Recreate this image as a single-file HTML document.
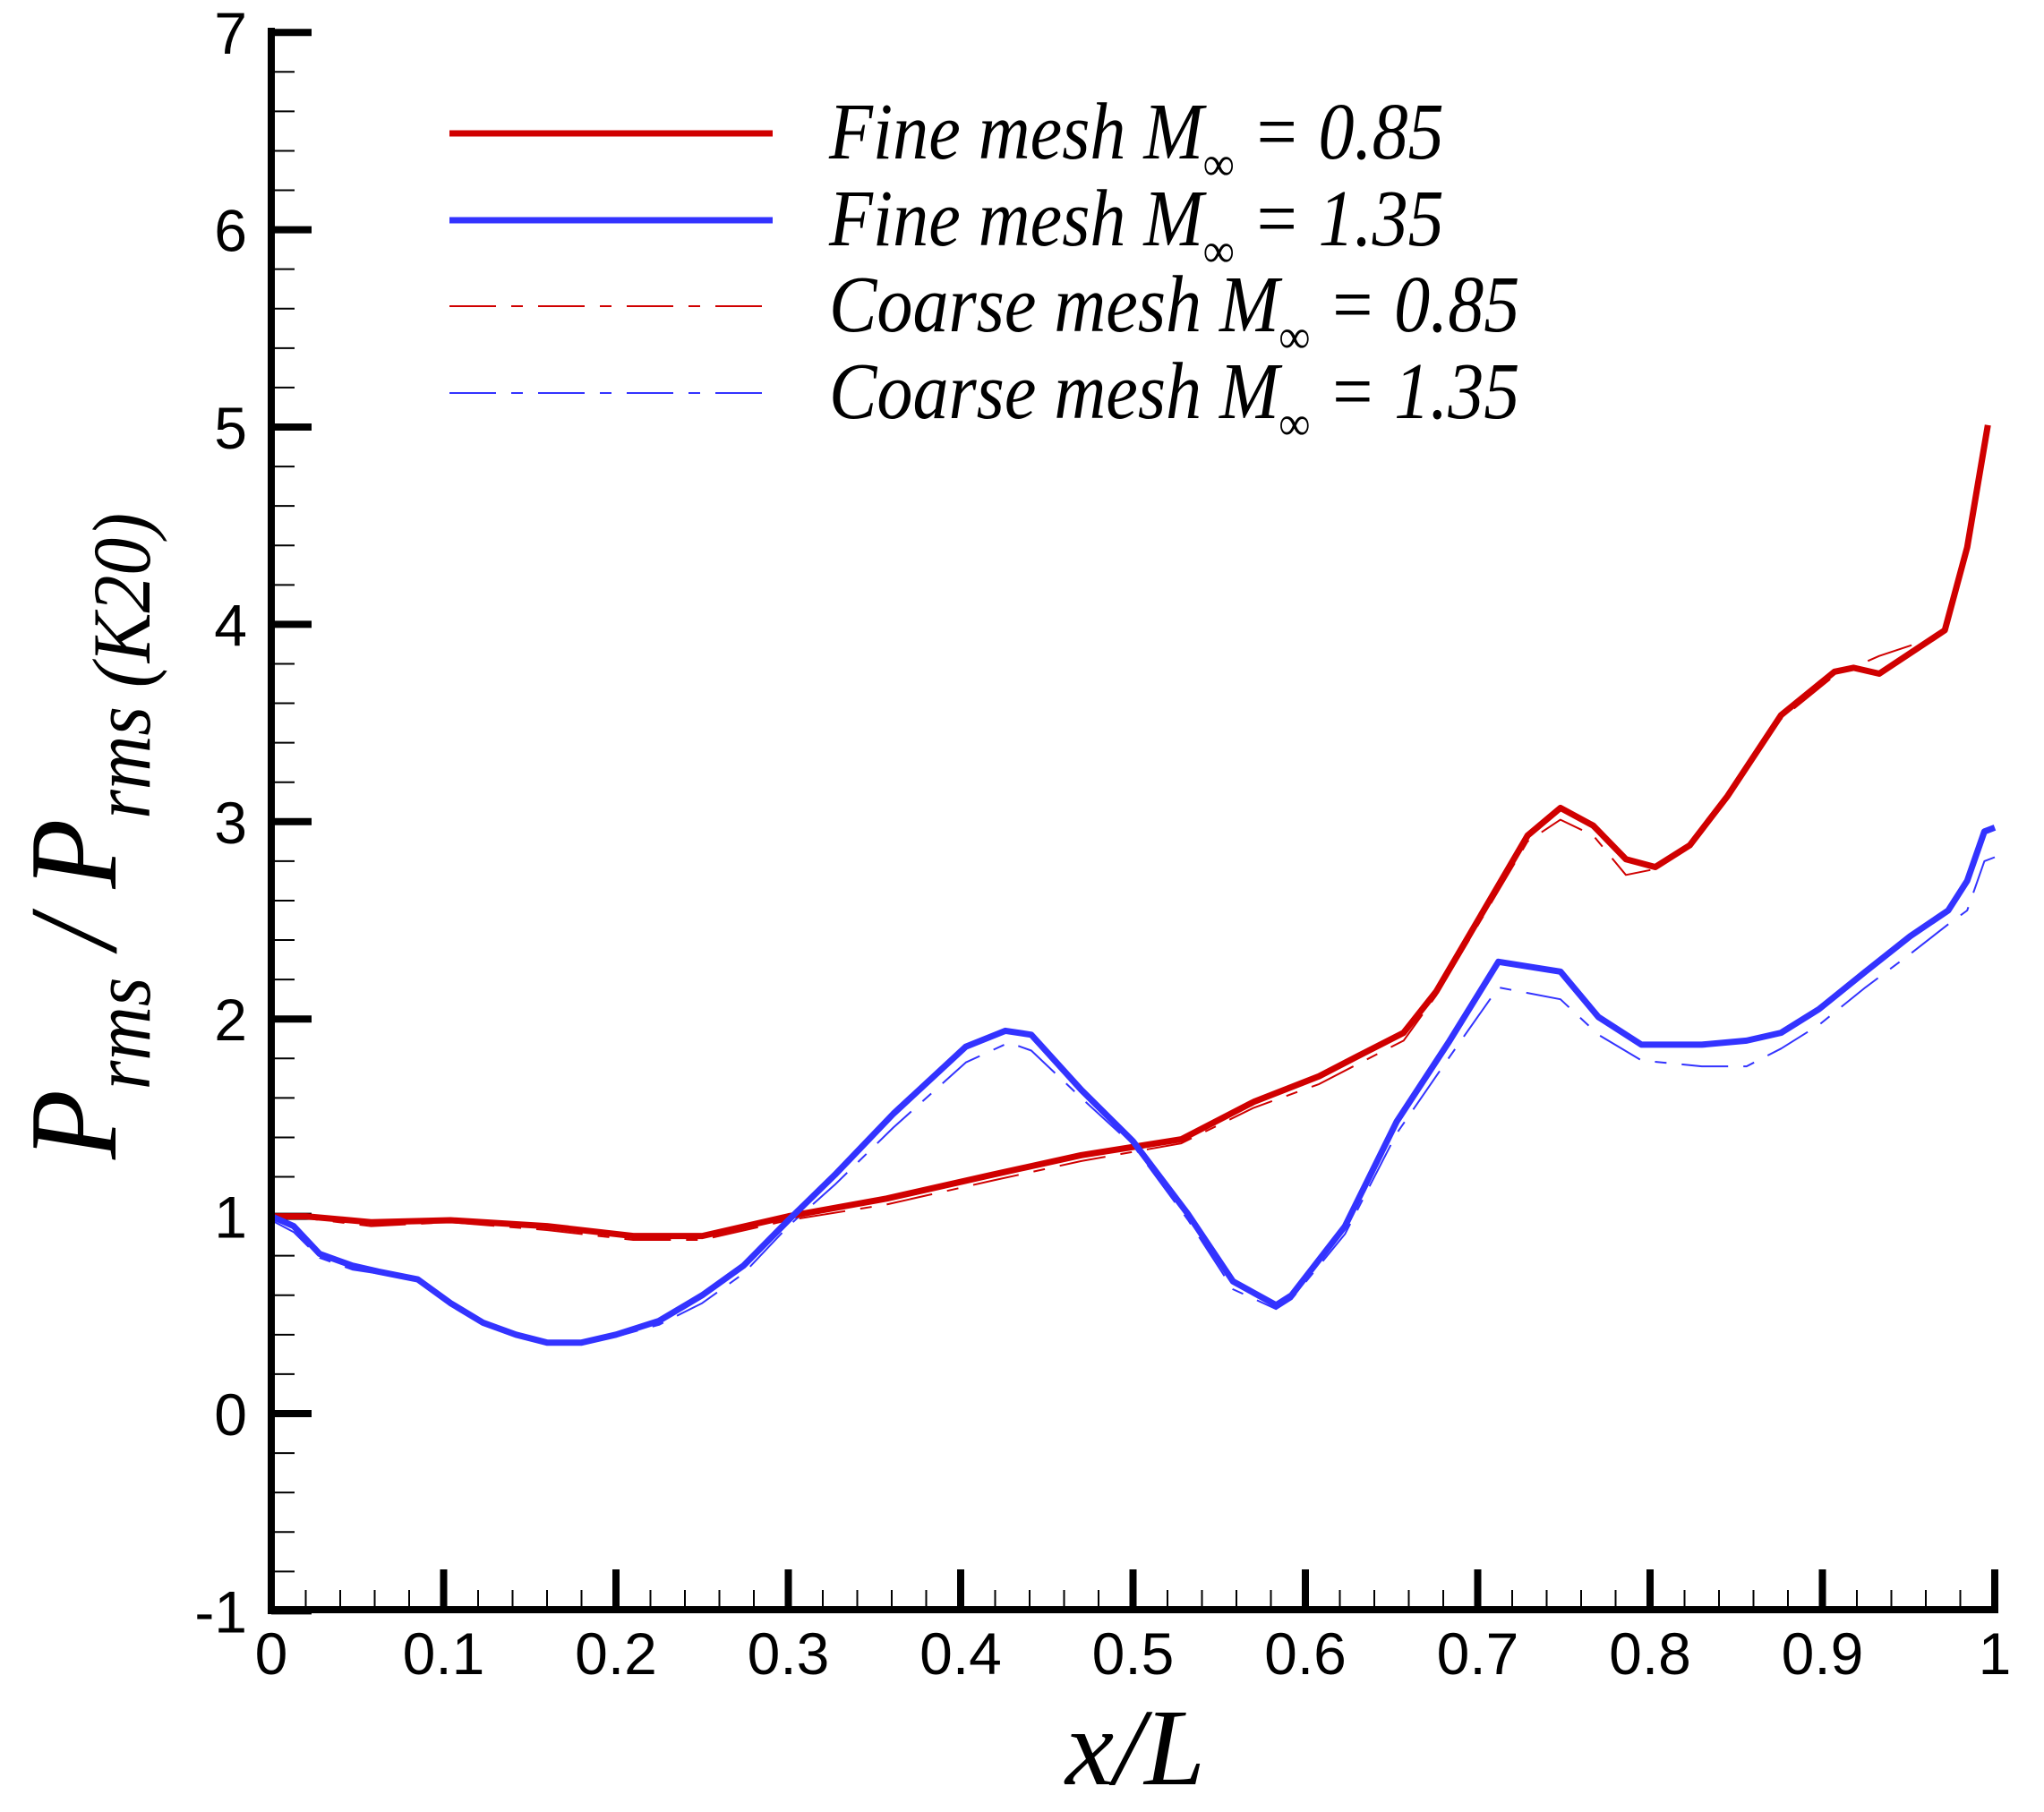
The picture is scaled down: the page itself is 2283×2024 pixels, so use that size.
<!DOCTYPE html>
<html><head><meta charset="utf-8"><style>
html,body{margin:0;padding:0;background:#fff;}
svg{display:block;}
</style></head><body>
<svg id="s" width="2283" height="2024" viewBox="0 0 2283 2024" xmlns="http://www.w3.org/2000/svg">
<rect width="2283" height="2024" fill="#fff"/>
<g id="axes"></g>
<g id="series" fill="none" stroke-linejoin="round"></g>
<line x1="303" y1="31" x2="303" y2="1803" stroke="#000" stroke-width="8"/>
<line x1="299" y1="1798" x2="2232" y2="1798" stroke="#000" stroke-width="8"/>
<line x1="502" y1="149" x2="863" y2="149" stroke="#d00000" stroke-width="7"/>
<line x1="502" y1="246" x2="863" y2="246" stroke="#3333ff" stroke-width="7"/>
<line x1="502" y1="342" x2="855" y2="342" stroke="#d00000" stroke-width="2" stroke-dasharray="52,17,13,17"/>
<line x1="502" y1="439" x2="855" y2="439" stroke="#3333ff" stroke-width="2" stroke-dasharray="52,17,13,17"/>
<g font-family="Liberation Serif, serif" font-style="italic" font-size="90" fill="#000">
<g transform="translate(926,177) scale(0.89,1)"><text x="0" y="0">Fine mesh M<tspan font-size="54" dy="24">∞</tspan><tspan dy="-24"> = 0.85</tspan></text></g>
<g transform="translate(926,274) scale(0.89,1)"><text x="0" y="0">Fine mesh M<tspan font-size="54" dy="24">∞</tspan><tspan dy="-24"> = 1.35</tspan></text></g>
<g transform="translate(926,370) scale(0.89,1)"><text x="0" y="0">Coarse mesh M<tspan font-size="54" dy="24">∞</tspan><tspan dy="-24"> = 0.85</tspan></text></g>
<g transform="translate(926,467) scale(0.89,1)"><text x="0" y="0">Coarse mesh M<tspan font-size="54" dy="24">∞</tspan><tspan dy="-24"> = 1.35</tspan></text></g>
</g>
<text x="1268" y="1993" text-anchor="middle" font-family="Liberation Serif, serif" font-style="italic" font-size="122" fill="#000">x/L</text>
<g transform="translate(129,1295) rotate(-90) scale(0.91,1)" font-family="Liberation Serif, serif" font-style="italic" fill="#000">
<text x="0" y="0" font-size="140">P<tspan font-size="92" dy="38">rms</tspan><tspan dy="-38" font-size="140"> / P</tspan><tspan font-size="92" dy="38">rms (K20)</tspan></text>
</g>
</svg>
<script>
var NS="http://www.w3.org/2000/svg";
function X(x){return 303+x*1925;}
function Y(v){return 1579-220.4*v;}
var ax=document.getElementById('axes');
function el(t,a,p){var e=document.createElementNS(NS,t);for(var k in a)e.setAttribute(k,a[k]);(p||ax).appendChild(e);return e;}
for(var i=-10;i<=70;i+=2){var v=i/10,y=Y(v),maj=(i%10===0);
 el('line',{x1:303,y1:y,x2:maj?348:329,y2:y,stroke:'#000','stroke-width':maj?8:2});
 if(maj){var t=el('text',{x:276,y:y+24,'text-anchor':'end','font-family':'Liberation Sans, sans-serif','font-size':66,fill:'#000'});t.textContent=String(v);}
}
for(var j=0;j<=50;j++){var x=X(j/50),maj=(j%5===0);
 if(j>0) el('line',{x1:x,y1:1798,x2:x,y2:maj?1753:1776,stroke:'#000','stroke-width':maj?8:2});
 if(maj){var t=el('text',{x:x,y:1870,'text-anchor':'middle','font-family':'Liberation Sans, sans-serif','font-size':66,fill:'#000'});t.textContent=(j===0?'0':(j===50?'1':(j/50).toFixed(1)));}
}
var red=[[0,1.0],[0.02,1.0],[0.058,0.97],[0.104,0.98],[0.16,0.95],[0.21,0.9],[0.25,0.9],[0.30,1.0],[0.357,1.09],[0.418,1.21],[0.47,1.31],[0.528,1.39],[0.57,1.58],[0.608,1.71],[0.63,1.81],[0.657,1.93],[0.676,2.14],[0.729,2.93],[0.748,3.07],[0.767,2.98],[0.786,2.81],[0.803,2.77],[0.823,2.88],[0.845,3.13],[0.876,3.54],[0.907,3.76],[0.918,3.78],[0.933,3.75],[0.971,3.97],[0.984,4.39],[0.996,5.01]];
var redC=[[0,1.0],[0.02,0.99],[0.058,0.95],[0.104,0.97],[0.16,0.93],[0.21,0.88],[0.25,0.88],[0.30,0.98],[0.357,1.06],[0.418,1.18],[0.47,1.28],[0.528,1.37],[0.57,1.55],[0.608,1.67],[0.63,1.77],[0.657,1.89],[0.676,2.12],[0.729,2.9],[0.748,3.01],[0.767,2.93],[0.786,2.73],[0.803,2.76],[0.823,2.88],[0.845,3.13],[0.876,3.52],[0.907,3.74],[0.933,3.84],[0.971,3.95],[0.984,4.37],[0.996,5.0]];
var blue=[[0,1.0],[0.013,0.95],[0.028,0.81],[0.047,0.75],[0.062,0.72],[0.085,0.68],[0.104,0.56],[0.123,0.46],[0.142,0.40],[0.16,0.36],[0.18,0.36],[0.2,0.40],[0.225,0.47],[0.25,0.6],[0.274,0.75],[0.30,0.98],[0.327,1.21],[0.361,1.52],[0.403,1.86],[0.426,1.94],[0.441,1.92],[0.47,1.64],[0.50,1.38],[0.532,1.01],[0.558,0.67],[0.583,0.55],[0.592,0.60],[0.623,0.95],[0.653,1.48],[0.683,1.88],[0.712,2.29],[0.748,2.24],[0.77,2.01],[0.795,1.87],[0.83,1.87],[0.856,1.89],[0.876,1.93],[0.898,2.05],[0.925,2.24],[0.951,2.42],[0.973,2.55],[0.984,2.70],[0.994,2.95],[1.0,2.97]];
var blueC=[[0,0.98],[0.013,0.92],[0.028,0.79],[0.047,0.73],[0.062,0.71],[0.085,0.67],[0.104,0.55],[0.123,0.45],[0.142,0.39],[0.16,0.35],[0.18,0.35],[0.2,0.39],[0.225,0.45],[0.25,0.56],[0.274,0.71],[0.30,0.95],[0.327,1.16],[0.361,1.45],[0.403,1.78],[0.428,1.88],[0.441,1.84],[0.47,1.6],[0.50,1.36],[0.532,0.98],[0.558,0.63],[0.583,0.53],[0.592,0.58],[0.623,0.91],[0.653,1.42],[0.683,1.8],[0.712,2.16],[0.748,2.1],[0.77,1.92],[0.795,1.79],[0.83,1.76],[0.856,1.76],[0.876,1.85],[0.898,1.97],[0.925,2.16],[0.951,2.33],[0.973,2.48],[0.984,2.55],[0.994,2.8],[1.0,2.82]];
var sg=document.getElementById('series');
function path(d,c,w,dash){var s='';d.forEach(function(p,i){s+=(i?'L':'M')+X(p[0]).toFixed(1)+','+Y(p[1]).toFixed(1);});
 var a={d:s,stroke:c,'stroke-width':w};if(dash)a['stroke-dasharray']=dash;el('path',a,sg);}
path(redC,'#d00000',2,'52,17,13,17');
path(blueC,'#3333ff',2,'52,17,13,17');
path(red,'#d00000',7);
path(blue,'#3333ff',7);
</script>
</body></html>
